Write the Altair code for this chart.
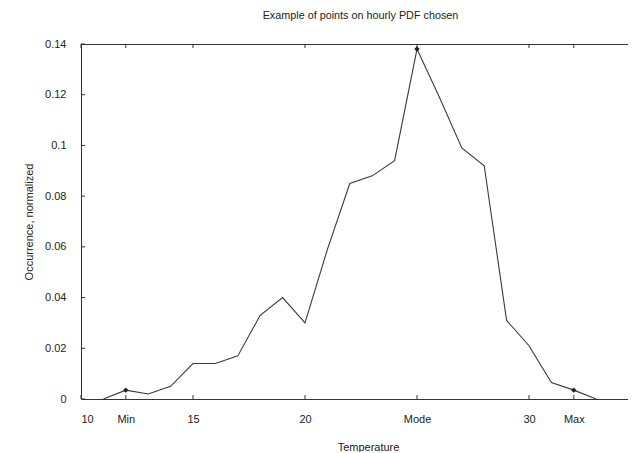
import altair as alt
import pandas as pd

# data
temps = [11, 12, 13, 14, 15, 16, 17, 18, 19, 20, 21, 22, 23, 24, 25, 26, 27, 28, 29, 30, 31, 32, 33]
occurrence = [0.0, 0.0035, 0.002, 0.005, 0.014, 0.014, 0.017, 0.033, 0.040, 0.030, 0.059, 0.085,
              0.088, 0.094, 0.138, 0.119, 0.099, 0.092, 0.031, 0.021, 0.0065, 0.0035, 0.0]
marker_temps = [12, 25, 32]
marker_vals = [0.0035, 0.138, 0.0035]
x_tick_values = [10, 12, 15, 20, 25, 30, 32]
x_tick_labels = ["10", "Min", "15", "20", "Mode", "30", "Max"]
y_tick_values = [0, 0.02, 0.04, 0.06, 0.08, 0.1, 0.12, 0.14]

W, H = 547, 355
X_DOMAIN = [10, 10 + W / 22.4]
Y_DOMAIN = [0, 0.14]
FONT = "Liberation Sans"
INK = "#333333"
TXT = "#222222"

curve = pd.DataFrame({"t": temps, "v": occurrence})
marks = pd.DataFrame({"t": marker_temps, "v": marker_vals})
xt = pd.DataFrame({"t": x_tick_values})
yt = pd.DataFrame({"v": y_tick_values})

label_expr = " : ".join(
    f"datum.value == {v} ? '{l}'" for v, l in zip(x_tick_values, x_tick_labels)
) + " : datum.label"

xscale = alt.Scale(domain=X_DOMAIN, nice=False, zero=False)
yscale = alt.Scale(domain=Y_DOMAIN, nice=False)

xaxis = alt.Axis(values=x_tick_values, labelExpr=label_expr, ticks=False, grid=False,
                 labelPadding=14, title="Temperature", titlePadding=17,
                 domainColor=INK, labelColor=TXT, titleColor=TXT,
                 labelFontSize=11, titleFontSize=11, titleFontWeight="normal",
                 labelFont=FONT, titleFont=FONT, titleX=287)
yaxis = alt.Axis(values=y_tick_values, format="~g", ticks=False, grid=False,
                 labelPadding=15, title="Occurrence, normalized", titlePadding=10,
                 domainColor=INK, labelColor=TXT, titleColor=TXT,
                 labelFontSize=11, titleFontSize=11, titleFontWeight="normal",
                 labelFont=FONT, titleFont=FONT)

line = alt.Chart(curve).mark_line(color="#3a3a3a", strokeWidth=1.1, clip=True).encode(
    x=alt.X("t:Q", scale=xscale, axis=xaxis),
    y=alt.Y("v:Q", scale=yscale, axis=yaxis),
)
pts = alt.Chart(marks).mark_point(shape="diamond", filled=True, color="#222", size=30, opacity=1).encode(
    x=alt.X("t:Q", scale=xscale),
    y=alt.Y("v:Q", scale=yscale),
)
top_frame = alt.Chart(curve).mark_rule(color=INK, strokeWidth=1).encode(
    x=alt.value(0), x2=alt.value(W), y=alt.value(0.5)
)
bottom_ticks = alt.Chart(xt).mark_rule(color=INK).encode(
    x=alt.X("t:Q", scale=xscale), y=alt.value(H), y2=alt.value(H - 4)
)
top_ticks = alt.Chart(xt).mark_rule(color=INK).encode(
    x=alt.X("t:Q", scale=xscale), y=alt.value(0), y2=alt.value(4)
)
left_ticks = alt.Chart(yt).mark_rule(color=INK).encode(
    y=alt.Y("v:Q", scale=yscale), x=alt.value(0), x2=alt.value(4)
)

chart = alt.layer(top_frame, bottom_ticks, top_ticks, left_ticks, line, pts).properties(
    width=W, height=H,
    title=alt.TitleParams("Example of points on hourly PDF chosen", fontSize=10.8, font=FONT,
                          fontWeight="normal", color=TXT, anchor="middle", offset=17, dx=6),
    autosize=alt.AutoSizeParams(type="none"),
    padding={"left": 73, "top": 36, "right": 0, "bottom": 53},
).configure_view(strokeWidth=0).configure(background="white")

chart.save("out.html", embed_options={"renderer": "svg", "actions": False})
